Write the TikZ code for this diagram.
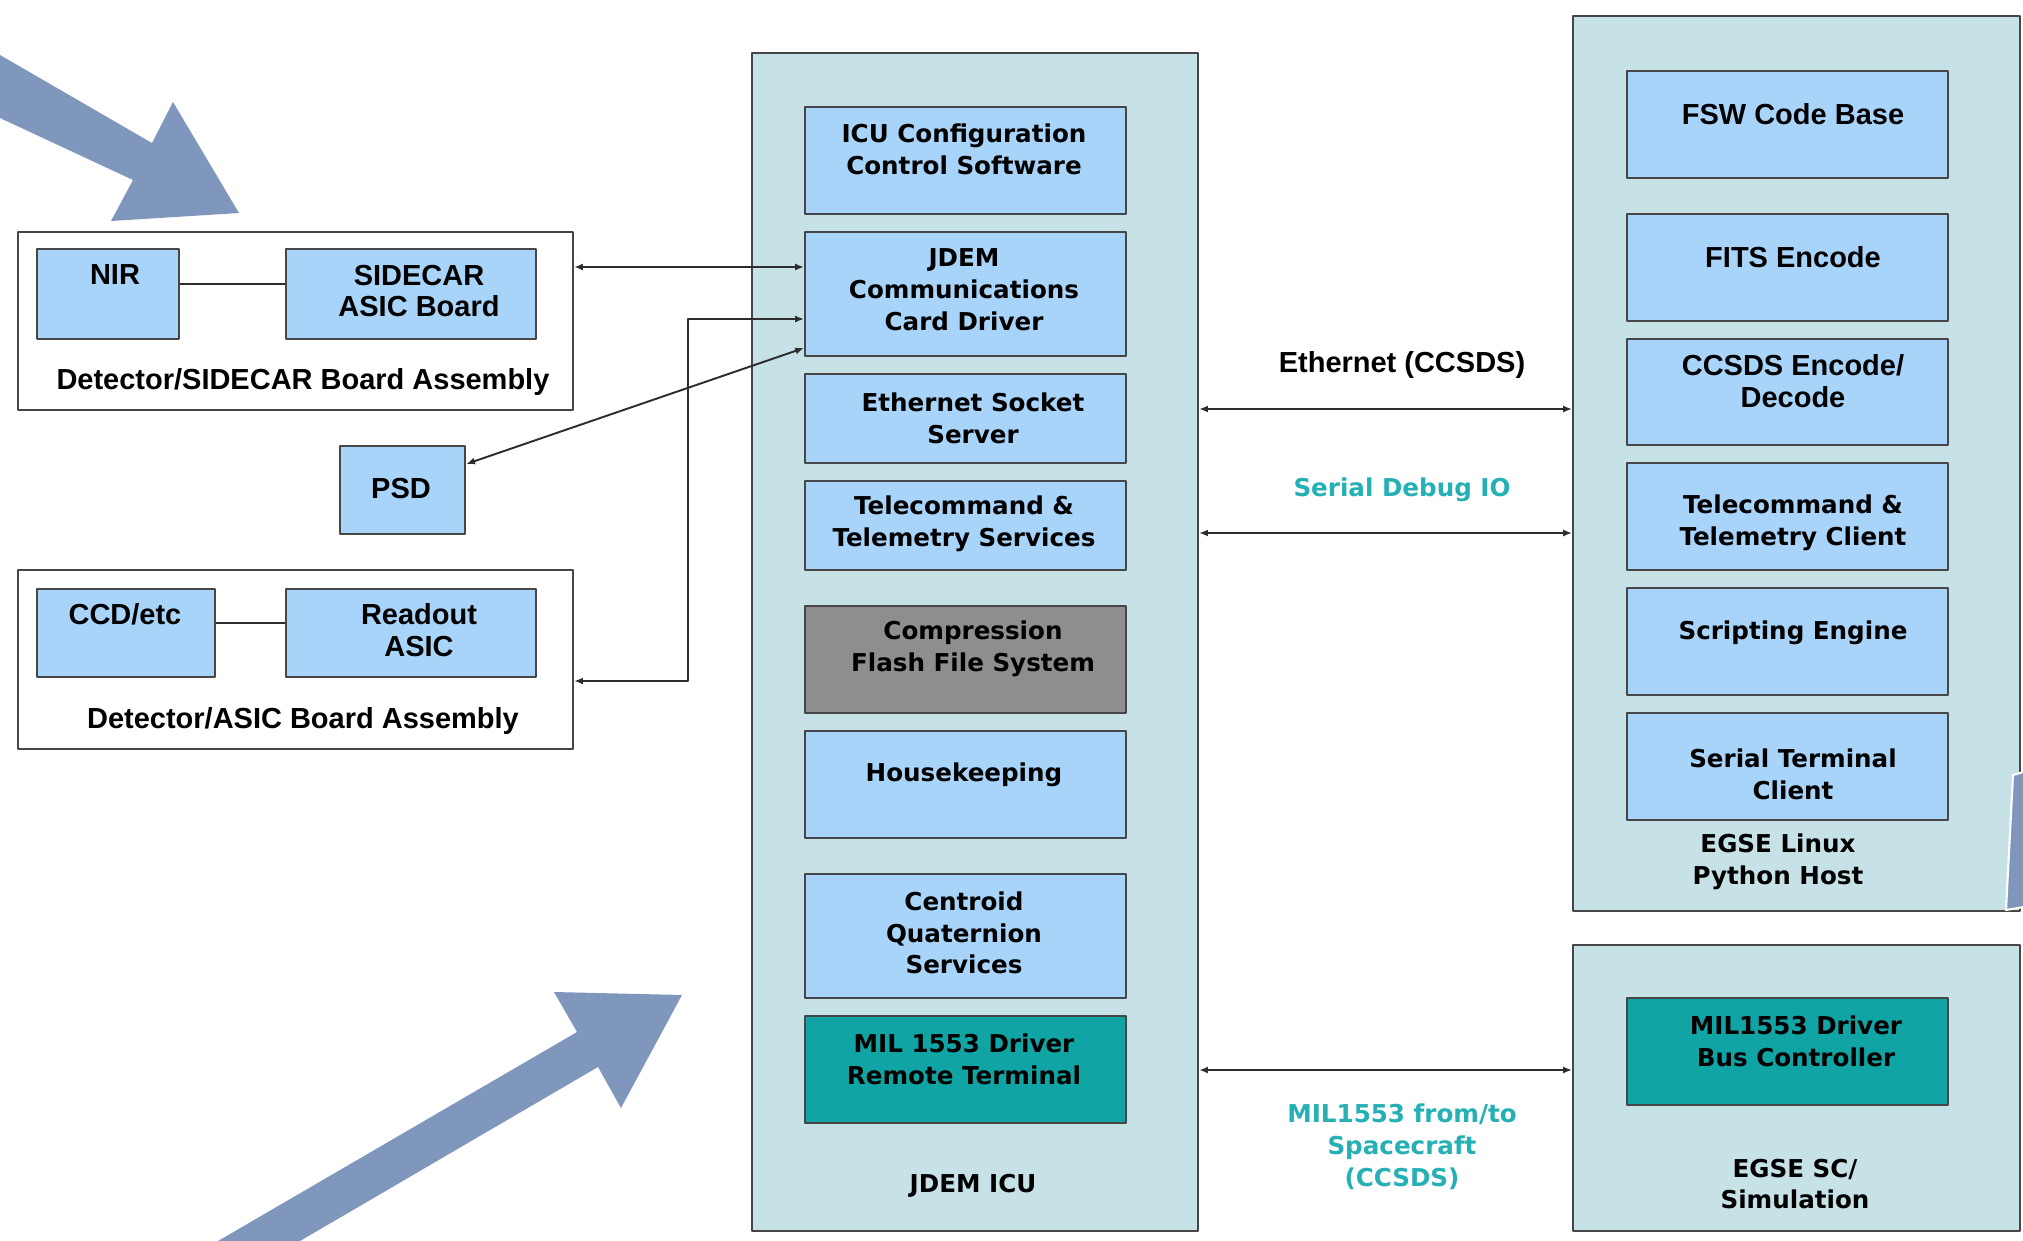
\documentclass[tikz,border=0pt]{standalone}
\usepackage{fontspec}
\newfontfamily\widefont{DejaVu Sans}
\newfontfamily\narrowfont{Liberation Sans}
\usetikzlibrary{arrows.meta}
\definecolor{grpfill}{RGB}{198,226,230}
\definecolor{blkfill}{RGB}{168,212,250}
\definecolor{grayfill}{RGB}{142,142,142}
\definecolor{tealfill}{RGB}{16,164,164}
\definecolor{tealtext}{RGB}{36,176,180}
\definecolor{edgegray}{RGB}{70,70,70}
\definecolor{linkgray}{RGB}{45,45,45}
\definecolor{arrowblue}{RGB}{127,151,189}

\begin{document}
\begin{tikzpicture}[x=0.02cm, y=-0.02cm, line join=round,
    >={Latex[length=5pt,width=4pt]},
    grp/.style={draw=edgegray, fill=grpfill, line width=1.3pt, anchor=north west, inner sep=0pt},
    asm/.style={draw=edgegray, fill=white, line width=1.3pt, anchor=north west, inner sep=0pt},
    blk/.style={draw=edgegray, fill=blkfill, line width=1.3pt, anchor=north west, inner sep=0pt},
    wtxt/.style={font=\widefont\bfseries\fontsize{14}{18.1}\selectfont, align=center, inner sep=0pt},
    ntxt/.style={font=\narrowfont\bfseries\fontsize{16.5}{18.1}\selectfont, align=center, inner sep=0pt},
    link/.style={draw=linkgray, line width=1.1pt, <->},
    wire/.style={draw=linkgray, line width=1.1pt},
    bigarrow/.style={fill=arrowblue}]
  \useasboundingbox (0,0) rectangle (2023,1241);
  % pointer arrows
  \fill[bigarrow] (0,55) -- (152,143) -- (173,102) -- (239,213) -- (111,221)
    -- (133,180) -- (0,118) -- cycle;
  \fill[bigarrow] (218,1241) -- (577,1032) -- (554,992) -- (682,995) -- (621,1108)
    -- (598,1067) -- (300,1241) -- cycle;
  % detector side
  \node[asm, minimum width=11.10cm, minimum height=3.56cm] (sidecarasm) at (17,231) {};
  \node[blk, minimum width=2.84cm, minimum height=1.80cm] (nir) at (36,248) {};
  \node[blk, minimum width=5.00cm, minimum height=1.80cm] (sidecar) at (285,248) {};
  \draw[wire] (nir.east |- 0,284) -- (sidecar.west |- 0,284);
  \node[ntxt] (nirtxt) at (115,275) {NIR};
  \node[ntxt] (sidecartxt) at (419,291) {SIDECAR\\ASIC Board};
  \node[ntxt] (sidecarlab) at (303,382) {Detector/SIDECAR Board Assembly};
  \node[blk, minimum width=2.50cm, minimum height=1.76cm] (psd) at (339,445) {};
  \node[ntxt] (psdtxt) at (401,489) {PSD};
  \node[asm, minimum width=11.10cm, minimum height=3.58cm] (asicasm) at (17,569) {};
  \node[blk, minimum width=3.56cm, minimum height=1.76cm] (ccd) at (36,588) {};
  \node[blk, minimum width=5.00cm, minimum height=1.76cm] (readout) at (285,588) {};
  \draw[wire] (ccd.east |- 0,623) -- (readout.west |- 0,623);
  \node[ntxt] (ccdtxt) at (125,614) {CCD/etc};
  \node[ntxt] (readouttxt) at (419,630) {Readout\\ASIC};
  \node[ntxt] (asiclab) at (303,721) {Detector/ASIC Board Assembly};
  % JDEM ICU
  \node[grp, minimum width=8.92cm, minimum height=23.56cm] (icu) at (751,52) {};
  \node[blk, minimum width=6.42cm, minimum height=2.14cm] (cfg) at (804,106) {};
  \node[blk, minimum width=6.42cm, minimum height=2.48cm] (jdem) at (804,231) {};
  \node[blk, minimum width=6.42cm, minimum height=1.78cm] (eth) at (804,373) {};
  \node[blk, minimum width=6.42cm, minimum height=1.78cm] (tmtc) at (804,480) {};
  \node[blk, fill=grayfill, minimum width=6.42cm, minimum height=2.14cm] (comp) at (804,605) {};
  \node[blk, minimum width=6.42cm, minimum height=2.14cm] (hk) at (804,730) {};
  \node[blk, minimum width=6.42cm, minimum height=2.48cm] (cent) at (804,873) {};
  \node[blk, fill=tealfill, minimum width=6.42cm, minimum height=2.14cm] (milrt) at (804,1015) {};
  \node[wtxt] (cfgtxt) at (964,149) {ICU Configuration\\Control Software};
  \node[wtxt] (jdemtxt) at (964,290) {JDEM\\Communications\\Card Driver};
  \node[wtxt] (ethtxt) at (973,418) {Ethernet Socket\\Server};
  \node[wtxt] (tmtctxt) at (964,524) {Telecommand \&\\Telemetry Services};
  \node[wtxt] (comptxt) at (973,649) {Compression\\Flash File System};
  \node[wtxt] (hktxt) at (964,775) {Housekeeping};
  \node[wtxt] (centtxt) at (964,933) {Centroid\\Quaternion\\Services};
  \node[wtxt] (milrttxt) at (964,1059) {MIL 1553 Driver\\Remote Terminal};
  \node[wtxt] (iculab) at (973,1186) {JDEM ICU};
  % EGSE host
  \node[grp, minimum width=8.94cm, minimum height=17.90cm] (host) at (1572,15) {};
  \node[blk, minimum width=6.42cm, minimum height=2.14cm] (fsw) at (1626,70) {};
  \node[blk, minimum width=6.42cm, minimum height=2.14cm] (fits) at (1626,213) {};
  \node[blk, minimum width=6.42cm, minimum height=2.12cm] (ccsds) at (1626,338) {};
  \node[blk, minimum width=6.42cm, minimum height=2.14cm] (tmcl) at (1626,462) {};
  \node[blk, minimum width=6.42cm, minimum height=2.14cm] (script) at (1626,587) {};
  \node[blk, minimum width=6.42cm, minimum height=2.14cm] (sertc) at (1626,712) {};
  \node[ntxt] (fswtxt) at (1793,114) {FSW Code Base};
  \node[ntxt] (fitstxt) at (1793,257) {FITS Encode};
  \node[ntxt] (ccsdstxt) at (1793,381) {CCSDS Encode/\\Decode};
  \node[wtxt] (tmcltxt) at (1793,523) {Telecommand \&\\Telemetry Client};
  \node[wtxt] (scripttxt) at (1793,633) {Scripting Engine};
  \node[wtxt] (sertctxt) at (1793,774) {Serial Terminal\\Client};
  \node[wtxt] (hostlab) at (1778,862) {EGSE Linux\\Python Host};
  % EGSE spacecraft simulation
  \node[grp, minimum width=8.94cm, minimum height=5.72cm] (scsim) at (1572,944) {};
  \node[blk, fill=tealfill, minimum width=6.42cm, minimum height=2.14cm] (milbc) at (1626,997) {};
  \node[wtxt] (milbctxt) at (1796,1041) {MIL1553 Driver\\Bus Controller};
  \node[wtxt] (scsimlab) at (1795,1184) {EGSE SC/\\Simulation};
  % links
  \draw[link] (sidecarasm.east |- 0,267) -- (jdem.west |- 0,267);
  \draw[link] (asicasm.east |- 0,681) -| (688,319) -- (jdem.west |- 0,319);
  \draw[link] (psd.east |- 0,464) -- (jdem.west |- 0,348);
  \draw[link] (icu.east |- 0,409) -- (host.west |- 0,409);
  \draw[link] (icu.east |- 0,533) -- (host.west |- 0,533);
  \draw[link] (icu.east |- 0,1070) -- (scsim.west |- 0,1070);
  \node[ntxt] (ethlab) at (1402,365) {Ethernet (CCSDS)};
  \node[wtxt, text=tealtext] (seriallab) at (1402,490) {Serial Debug IO};
  \node[wtxt, text=tealtext] (millab) at (1402,1147) {MIL1553 from/to\\Spacecraft\\(CCSDS)};
  % pointer arrow cut at the right edge
  \filldraw[bigarrow, draw=white, line width=1.2pt] (2013,775) -- (2030,770) -- (2030,906)
    -- (2006,910) -- cycle;
\end{tikzpicture}
\end{document}
